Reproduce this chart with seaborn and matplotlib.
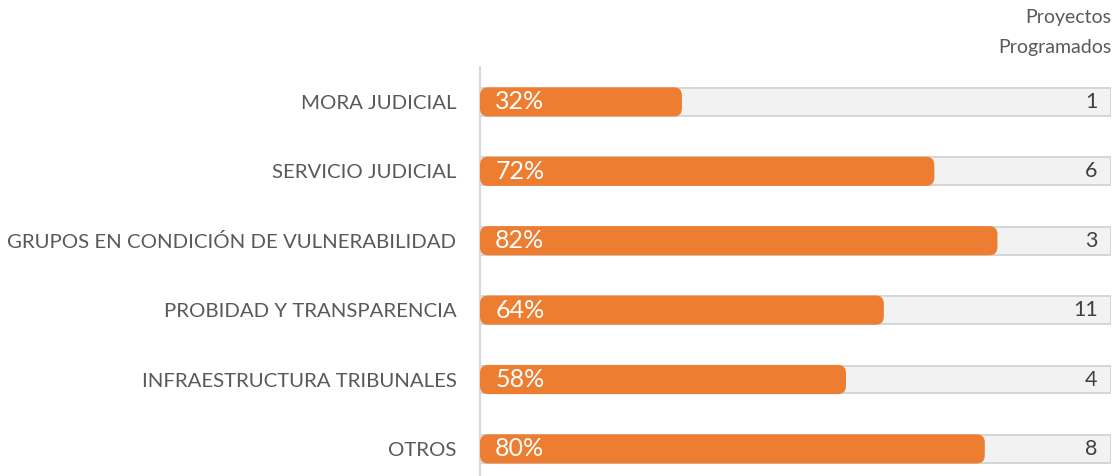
import pandas as pd
import matplotlib
matplotlib.use('Agg')
import matplotlib.pyplot as plt
from matplotlib.patches import FancyBboxPatch
import seaborn as sns

# Data
categories = ['MORA JUDICIAL', 'SERVICIO JUDICIAL', 'GRUPOS EN CONDICIÓN DE VULNERABILIDAD',
              'PROBIDAD Y TRANSPARENCIA', 'INFRAESTRUCTURA TRIBUNALES', 'OTROS']
avance = [32, 72, 82, 64, 58, 80]
proyectos = [1, 6, 3, 11, 4, 8]

df = pd.DataFrame({'categoria': categories, 'avance': avance, 'proyectos': proyectos, 'total': 100})

sns.set_theme(style='white')
plt.rcParams['font.family'] = ['Lato', 'DejaVu Sans']

fig = plt.figure(figsize=(11.14, 4.76), dpi=100)
ax = fig.add_axes([480 / 1114, -0.016, 631 / 1114, 0.8748])

# background bar (100%) then progress bar
sns.barplot(data=df, y='categoria', x='total', color='#F2F2F2', edgecolor='#D0D0D0',
            linewidth=1.2, width=0.40, saturation=1, ax=ax, orient='h')
n_bg = len(ax.patches)
sns.barplot(data=df, y='categoria', x='avance', color='#ED7D31', edgecolor='none',
            width=0.42, saturation=1, ax=ax, orient='h')

# give the orange bars rounded ends
for p in list(ax.patches)[n_bg:]:
    x, y = p.get_x(), p.get_y()
    w, h = p.get_width(), p.get_height()
    p.remove()
    ax.add_patch(FancyBboxPatch((x, y), w, h, boxstyle='round,pad=0,rounding_size=1.3',
                                mutation_aspect=0.09, facecolor='#ED7D31', edgecolor='none',
                                zorder=3))

for i, (a, p) in enumerate(zip(avance, proyectos)):
    ax.text(2.4, i, f'{a}%', color='white', fontsize=18, va='center', ha='left', zorder=4)
    ax.text(97.9, i, str(p), color='#404040', fontsize=15.5, va='center', ha='right', zorder=4)

ax.set_xlim(0, 100)
ax.set_ylim(5.5, -0.5)
ax.set_xlabel('')
ax.set_ylabel('')
ax.set_xticks([])
ax.tick_params(axis='y', length=0, pad=17, labelsize=14.7, labelcolor='#595959')
for s in ['top', 'right', 'bottom']:
    ax.spines[s].set_visible(False)
ax.spines['left'].set_color('#D9D9D9')
ax.spines['left'].set_linewidth(1.5)

fig.text(1111 / 1114, 1 - 17 / 476, 'Proyectos', ha='right', va='center',
         fontsize=14, color='#595959')
fig.text(1111 / 1114, 1 - 47 / 476, 'Programados', ha='right', va='center',
         fontsize=14, color='#595959')

fig.savefig('out.png', dpi=100)
